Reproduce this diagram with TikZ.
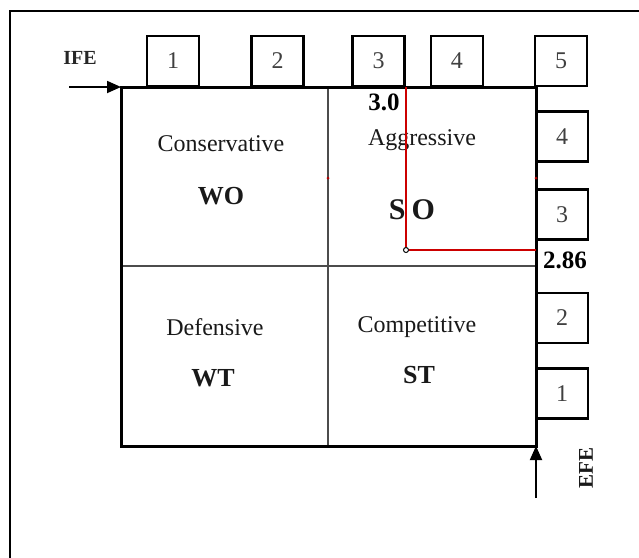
\documentclass[tikz,border=0pt]{standalone}
\usepackage{fontspec}
\setmainfont{Liberation Serif}
\usepackage{tikz}
\usetikzlibrary{arrows.meta,calc,positioning}

\begin{document}
\begin{tikzpicture}[x=0.5pt,y=-0.5pt,
		scalebox/.style={rectangle, draw, line width=1.1pt, minimum width=26pt, minimum height=25pt, inner sep=0pt, font=\fontsize{12}{14}\selectfont, text=black!75},
		quad/.style={font=\fontsize{12}{14}\selectfont, text=black!90},
		quadcode/.style={font=\fontsize{13}{15}\selectfont\bfseries, text=black!90},
		val/.style={font=\fontsize{12.5}{14}\selectfont\bfseries},
		axis/.style={-{Triangle[length=7pt,width=6pt]}, line width=0.9pt},
		redline/.style={draw=red!80!black, line width=0.8pt},
		>=stealth
		]
	
		\useasboundingbox (0,0) rectangle (639,558);
		\draw[line width=1.2pt] (10,558) -- (10,11) -- (639,11);
	
		% main grid
		\coordinate (NW) at (121,87);
		\coordinate (NE) at (536,87);
		\coordinate (SW) at (121,446);
		\coordinate (SE) at (536,446);
		\coordinate (Mtop) at (328,87);
		\coordinate (Mbot) at (328,446);
		\coordinate (Mleft) at (121,266);
		\coordinate (Mright) at (536,266);
		\draw[black!70, line width=0.8pt] (Mtop) -- (Mbot);
		\draw[black!70, line width=0.8pt] (Mleft) -- (Mright);
		\draw[line width=1.5pt] (NW) rectangle (SE);
	
		% IFE scale
		\node[scalebox] (T1) at (173,61) {1};
		\node[scalebox] (T2) at (277.5,61) {2};
		\node[scalebox] (T3) at (378.5,61) {3};
		\node[scalebox] (T4) at (457,61) {4};
		\node[scalebox] (T5) at (561,61) {5};
	
		% EFE scale
		\node[scalebox] (R4) at (562,136.5) {4};
		\node[scalebox] (R3) at (562,214.5) {3};
		\node[scalebox] (R2) at (562,318) {2};
		\node[scalebox] (R1) at (562,393.5) {1};
	
		\node[quad] (Cons) at (221,144) {Conservative};
		\node[quadcode] (WO) at (221,196) {WO};
		\node[quad] (Aggr) at (422,140) {Aggressive};
		\node[quadcode, font=\fontsize{15}{17}\selectfont\bfseries] (SO) at (412,210) {S\hspace{3pt}O};
		\node[quad] (Defe) at (215,327) {Defensive};
		\node[quadcode] (WT) at (213,378) {WT};
		\node[quad] (Comp) at (417,327) {Competitive};
		\node[quadcode] (ST) at (419,375) {ST};
	
		% position of the firm
		\coordinate (Xval) at (406,87);
		\coordinate (Yval) at (536,250);
		\node[circle, draw, fill=white, inner sep=0pt, minimum size=2.5pt, line width=0.5pt] (Pt) at (406,250) {};
		\draw[redline] (Xval) -- (Pt.north);
		\draw[redline] (Pt.east) -- (Yval);
		\fill[red!70!black] (328,178) circle (1.5);
		\fill[red!70!black] (536,178) circle (1.5);
		\node[val] (Xlab) at (384,102) {3.0};
		\node[val] (Ylab) at (565,260) {2.86};
	
		% axes
		\node[font=\fontsize{10}{12}\selectfont\bfseries, text=black!85] (IFE) at (80,58) {IFE};
		\coordinate (IFEstart) at (69,87);
		\draw[axis] (IFEstart) -- (NW);
		\node[font=\fontsize{10.5}{12}\selectfont\bfseries, text=black!90, rotate=90] (EFE) at (586,468) {EFE};
		\coordinate (EFEstart) at (536,498);
		\draw[axis] (EFEstart) -- (SE);
	
	\end{tikzpicture}
\end{document}
